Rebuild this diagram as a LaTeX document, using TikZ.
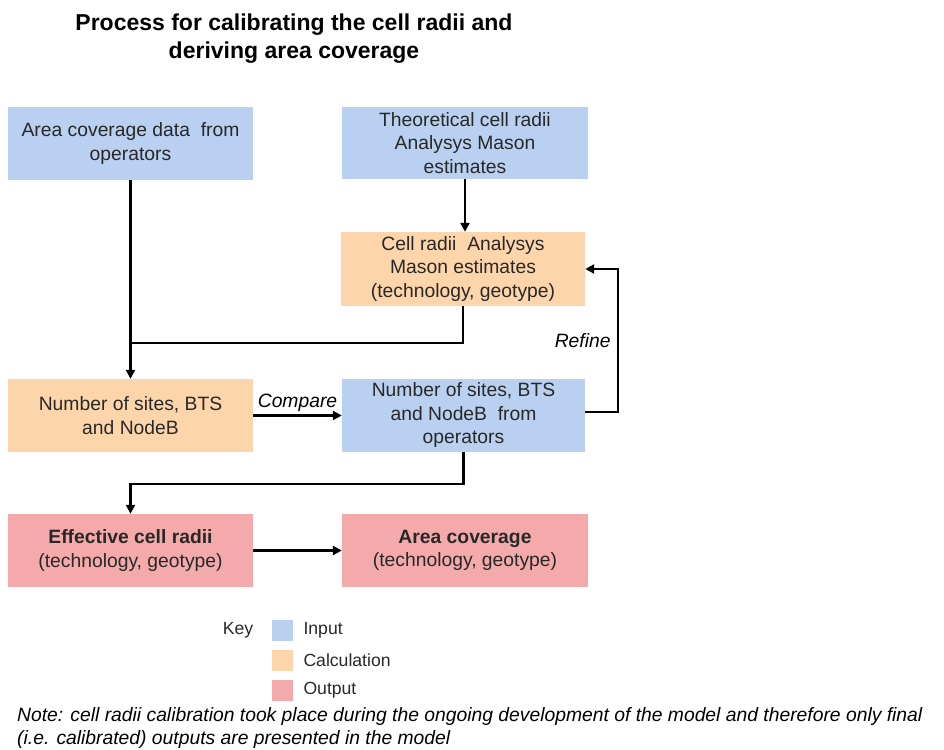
\documentclass[tikz,border=0pt]{standalone}
\usepackage{fontspec}
\setmainfont{Liberation Sans}
\usetikzlibrary{arrows.meta}
\definecolor{inblue}{RGB}{185,208,240}
\definecolor{calcor}{RGB}{253,213,170}
\definecolor{outpink}{RGB}{244,170,170}
\definecolor{txt}{RGB}{40,40,40}
\begin{document}
\begin{tikzpicture}[x=1pt,y=-1pt,
  box/.style={inner sep=2pt,align=center,text=txt,font=\fontsize{19.3}{23.5}\selectfont},
  inbox/.style={box,fill=inblue},
  calcbox/.style={box,fill=calcor},
  outbox/.style={box,fill=outpink},
  conn/.style={line width=2.2pt,black},
  arr/.style={conn,-{Triangle[length=9pt,width=9pt]}},
  lbl/.style={font=\fontsize{19.3}{23}\selectfont\itshape,text=black},
  keysq/.style={minimum width=21pt,minimum height=21pt,inner sep=0pt},
  keytxt/.style={font=\fontsize{17.6}{20}\selectfont,text=txt,anchor=west}]
\useasboundingbox (0,0) rectangle (944,749);
% title
\node[font=\fontsize{23}{28}\selectfont\bfseries,align=center] (title) at (294,39) {Process for calibrating the cell radii and\\deriving area coverage};
% boxes
\node[inbox,minimum width=245pt,minimum height=73pt] (A) at (130.5,143.5) {Area coverage data\ \ from\\operators};
\node[inbox,minimum width=246pt,minimum height=72pt] (T) at (465,143) {Theoretical cell radii\\Analysys Mason\\estimates};
\node[calcbox,minimum width=244pt,minimum height=74pt] (C) at (463,269) {Cell radii\ \ Analysys\\Mason estimates\\(technology, geotype)};
\node[calcbox,minimum width=245pt,minimum height=73pt] (L) at (130.5,415.5) {Number of sites, BTS\\and NodeB};
\node[inbox,minimum width=243pt,minimum height=73pt] (R) at (463.5,415.5) {Number of sites, BTS\\and NodeB\ \ from\\operators};
\node[outbox,minimum width=245pt,minimum height=73pt] (E) at (130.5,550.5) {\textbf{Effective cell radii}\\(technology, geotype)};
\node[outbox,minimum width=246pt,minimum height=73pt] (O) at (465,550.5) {\textbf{Area coverage}\\(technology, geotype)};
% junctions
\coordinate (j1) at (130.5,343);
\coordinate (j2) at (130.5,484);
\coordinate (rf) at (618,412);
% connectors
\draw[arr] (A.south) -- (L.north);
\draw[conn] (C.south) |- (j1);
\draw[arr] (T.south) -- (T.south |- C.north);
\draw[arr] (L.east) -- node[lbl,above=0pt] (cmp) {Compare} (R.west);
\draw[arr] (R.east |- rf) -- (rf) |- (C.east) node[pos=0.25,lbl,left=3pt] (ref) {Refine};
\draw[arr] (R.south) |- (j2) -- (E.north);
\draw[arr] (E.east) -- (O.west);
% key
\node[font=\fontsize{17.6}{20}\selectfont,text=txt] (key) at (238,630) {Key};
\node[keysq,fill=inblue] (k1) at (282.5,630.5) {};
\node[keysq,fill=calcor] (k2) at (282.5,660.5) {};
\node[keysq,fill=outpink] (k3) at (282.5,690.5) {};
\node[keytxt] (t1) at (300,630.5) {Input};
\node[keytxt] (t2) at (300,660.5) {Calculation};
\node[keytxt] (t3) at (300,690.5) {Output};
% note
\node[lbl,anchor=west,align=left,font=\fontsize{19.3}{24}\selectfont\itshape,inner sep=0pt] (note) at (17,728) {Note: cell radii calibration took place during the ongoing development of the model and therefore only final\\(i.e. calibrated) outputs are presented in the model};
\end{tikzpicture}
\end{document}
